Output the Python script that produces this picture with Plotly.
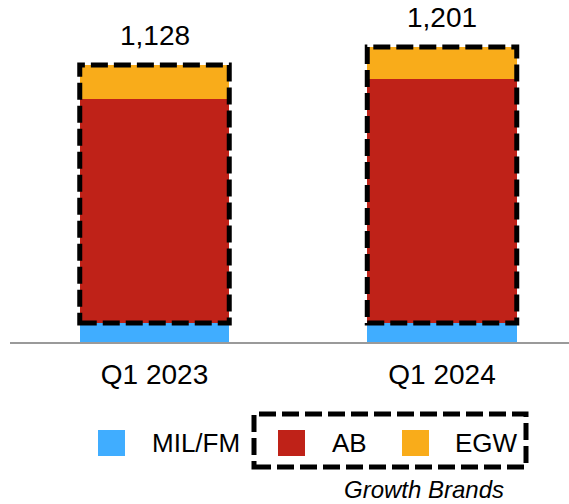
import plotly.graph_objects as go

# ---- data ----
categories = ["Q1 2023", "Q1 2024"]
series_names = ["MIL/FM", "AB", "EGW"]
mil_fm = [77, 77]
ab = [913, 994]
egw = [138, 130]
group_label = "Growth Brands"

colors = {"MIL/FM": "#40ADFF", "AB": "#BF2218", "EGW": "#F9AC1A"}
series_values = {"MIL/FM": mil_fm, "AB": ab, "EGW": egw}
totals = [a + b + c for a, b, c in zip(mil_fm, ab, egw)]

W, H = 569, 504
ML, MR, MT, MB = 10, 0, 0, 162
PW, PH = W - ML - MR, H - MT - MB

def px_x(px):
    return (px - ML) / PW

def px_y(py):
    return (H - MB - py) / PH

FONT = "Liberation Sans, Arial, Helvetica, sans-serif"
BAR_W = 0.52
xs = list(range(len(categories)))

fig = go.Figure()
for name in series_names:
    fig.add_trace(go.Bar(
        x=xs, y=series_values[name], name=name, width=BAR_W,
        marker=dict(color=colors[name], line=dict(width=0)),
        showlegend=False,
    ))

shapes = []
annotations = []
dash = "17px,6px"
# dashed boxes around growth brands (AB + EGW) in each bar
for i in xs:
    shapes.append(dict(type="rect", xref="x", yref="y",
                       x0=i - BAR_W / 2, x1=i + BAR_W / 2,
                       y0=mil_fm[i], y1=totals[i],
                       line=dict(color="black", width=5, dash=dash)))
    annotations.append(dict(x=i, y=totals[i], xref="x", yref="y",
                            text=f"{totals[i]:,}", showarrow=False,
                            yanchor="bottom", yshift=12,
                            font=dict(size=28, color="black", family=FONT)))

# custom legend
legend_sq_x = [98, 278, 402]
legend_txt_x = [150, 330, 453]
sq_y0, sq_y1 = 430, 456
for name, sx, tx in zip(series_names, legend_sq_x, legend_txt_x):
    shapes.append(dict(type="rect", xref="paper", yref="paper",
                       x0=px_x(sx), x1=px_x(sx + 27),
                       y0=px_y(sq_y1), y1=px_y(sq_y0),
                       fillcolor=colors[name], line=dict(width=0)))
    annotations.append(dict(x=px_x(tx), y=px_y(443), xref="paper", yref="paper",
                            text=name, showarrow=False,
                            xanchor="left", yanchor="middle",
                            font=dict(size=26, color="black", family=FONT)))
shapes.append(dict(type="rect", xref="paper", yref="paper",
                   x0=px_x(254), x1=px_x(526), y0=px_y(467), y1=px_y(414),
                   line=dict(color="black", width=5, dash=dash)))
annotations.append(dict(x=px_x(424), y=px_y(489), xref="paper", yref="paper",
                        text=f"<i>{group_label}</i>", showarrow=False,
                        xanchor="center", yanchor="middle",
                        font=dict(size=24, color="black", family=FONT)))

fig.update_layout(
    barmode="stack",
    width=W, height=H,
    margin=dict(l=ML, r=MR, t=MT, b=MB, pad=0),
    paper_bgcolor="white", plot_bgcolor="white",
    shapes=shapes, annotations=annotations,
    showlegend=False,
    xaxis=dict(range=[-0.5026, 1.4417], tickvals=xs, ticktext=categories,
               showline=True, linecolor="#9A9A9A", linewidth=2,
               showgrid=False, zeroline=False,
               ticks="outside", ticklen=6, tickcolor="rgba(0,0,0,0)",
               tickfont=dict(size=28, color="black", family=FONT)),
    yaxis=dict(range=[0, PH / 0.2456], visible=False, showgrid=False, zeroline=False),
)

fig.write_html("out.html")
